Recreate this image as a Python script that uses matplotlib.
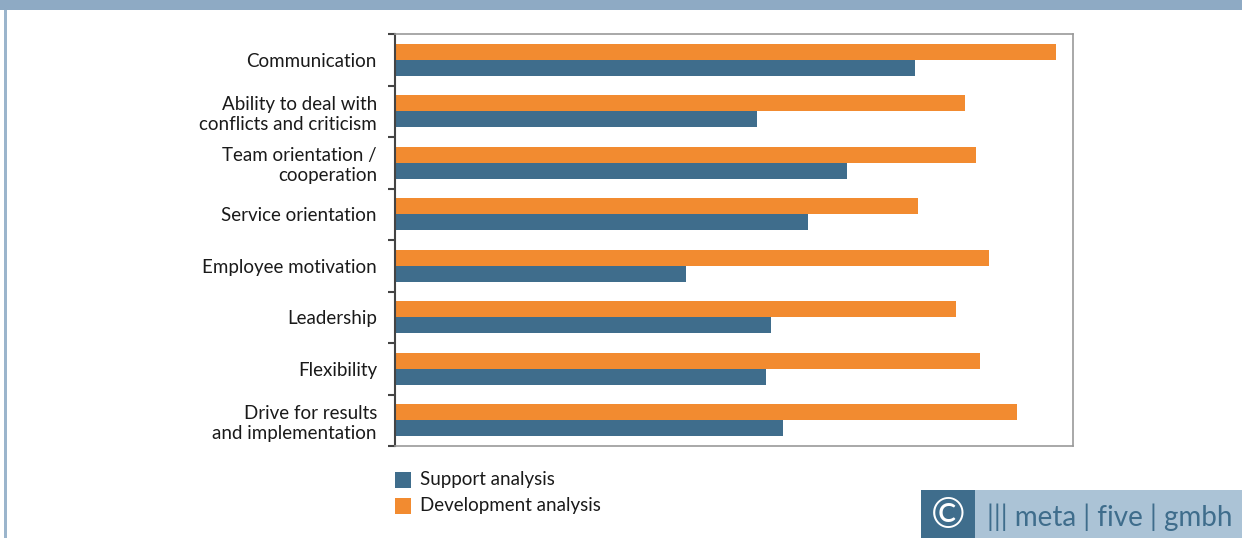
import matplotlib.pyplot as plt
import matplotlib.patches as mpatches
import numpy as np

plt.rcParams['font.family'] = ['Lato', 'DejaVu Sans']

categorias = ['Communication', 'Ability to deal with\nconflicts and criticism',
              'Team orientation /\ncooperation', 'Service orientation',
              'Employee motivation', 'Leadership', 'Flexibility',
              'Drive for results\nand implementation']
support = [76.7, 53.4, 66.7, 60.9, 42.9, 55.5, 54.7, 57.2]
development = [97.5, 84.1, 85.7, 77.1, 87.6, 82.7, 86.3, 91.7]
series = ['Support analysis', 'Development analysis']

azul = '#3F6D8C'
naranja = '#F28B30'

W, H = 1242, 538
fig = plt.figure(figsize=(W / 100, H / 100), dpi=100)

# marco
fig.add_artist(mpatches.Rectangle((0, 1 - 10 / H), 1, 10 / H, transform=fig.transFigure,
                                  color='#8EAAC4', lw=0))
fig.add_artist(mpatches.Rectangle((4 / W, 0), 3 / W, 1 - 10 / H, transform=fig.transFigure,
                                  color='#9BB5CC', lw=0))

ax = fig.add_axes([395 / W, 92 / H, 678 / W, 412 / H])
y = np.arange(len(categorias))
ax.barh(y - 0.155, development, height=0.31, color=naranja)
ax.barh(y + 0.155, support, height=0.31, color=azul)
ax.set_xlim(0, 100)
ax.set_ylim(len(categorias) - 0.5, -0.5)
ax.set_xticks([])
ax.set_yticks(np.arange(len(categorias) + 1) - 0.5)
ax.set_yticklabels([])
ax.tick_params(axis='y', which='major', length=5, width=1.5, color='#444444')
ax.set_yticks(y, minor=True)
ax.set_yticklabels(categorias, minor=True, fontsize=13.5, color='#1a1a1a')
ax.tick_params(axis='y', which='minor', length=0, pad=13)
for lab in ax.get_yticklabels(minor=True):
    lab.set_multialignment('right')
    lab.set_linespacing(1.22)
for s in ['top', 'right', 'bottom']:
    ax.spines[s].set_color('#999999')
    ax.spines[s].set_linewidth(1.2)
ax.spines['left'].set_color('#444444')
ax.spines['left'].set_linewidth(1.5)

# leyenda
for i, (nombre, c) in enumerate(zip(series, [azul, naranja])):
    ytop = 472 + i * 26
    fig.add_artist(mpatches.Rectangle((395 / W, 1 - (ytop + 16) / H), 16 / W, 16 / H,
                                      transform=fig.transFigure, color=c, lw=0))
    fig.text(420 / W, 1 - (ytop + 8) / H, nombre, fontsize=13.5, va='center', ha='left',
             color='#1a1a1a')

# logo
fig.add_artist(mpatches.Rectangle((921 / W, 0), 54 / W, 48 / H, transform=fig.transFigure,
                                  color='#3F6D8C', lw=0))
fig.add_artist(mpatches.Rectangle((975 / W, 0), 267 / W, 48 / H, transform=fig.transFigure,
                                  color='#ABC3D6', lw=0))
fig.text(948 / W, 22 / H, '©', fontsize=30, color='white', ha='center', va='center')
fig.text(987 / W, 21 / H, '||| meta | five | gmbh', fontsize=20, color='#3F6D8C',
         ha='left', va='center')

plt.savefig('out.png', dpi=100)
